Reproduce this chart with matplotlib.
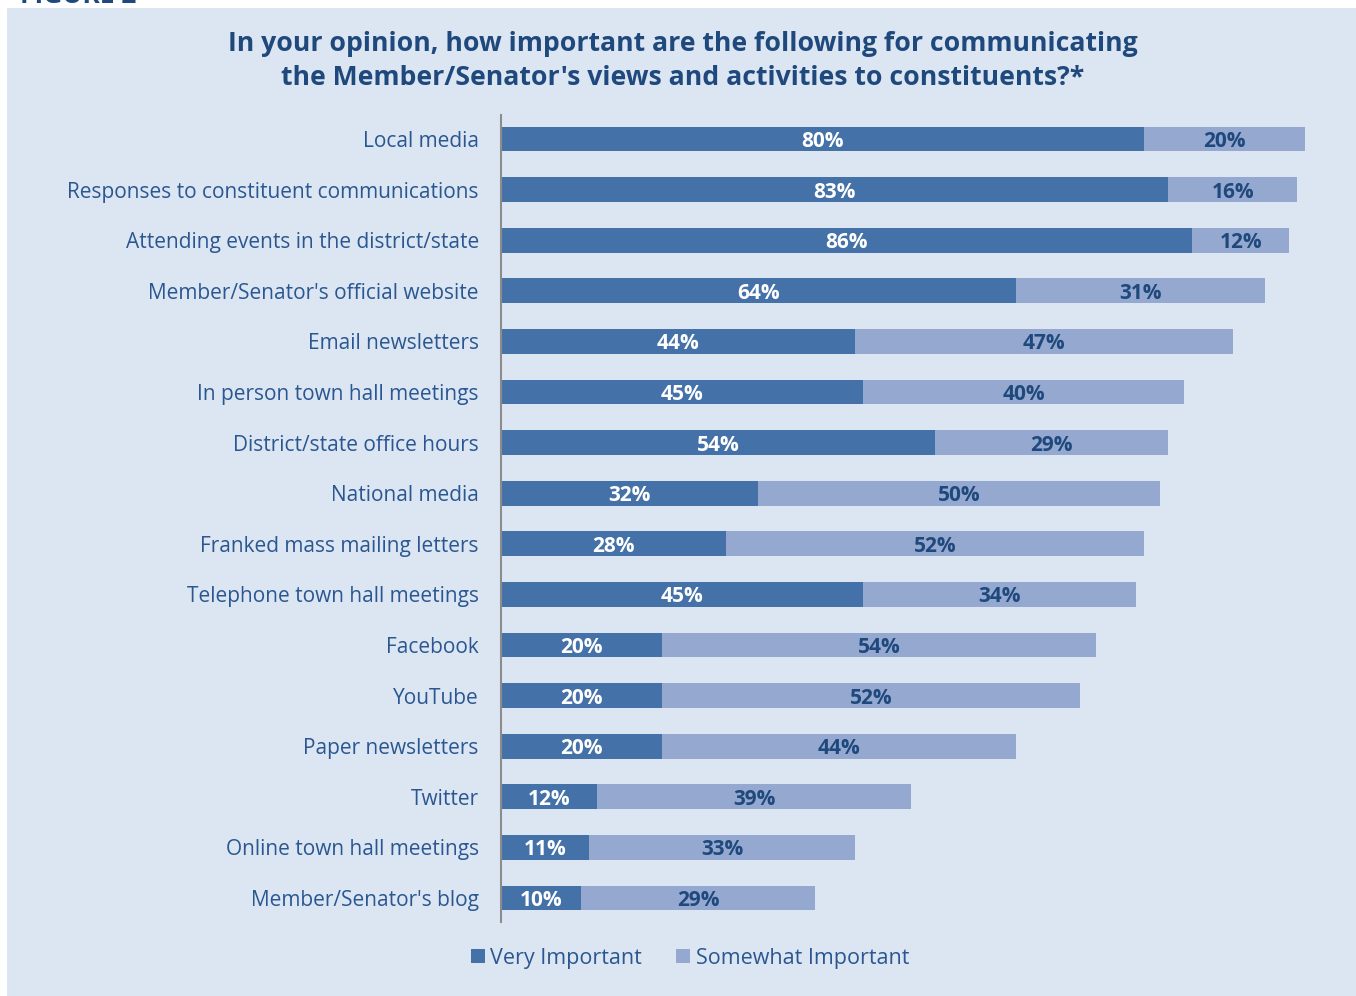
import matplotlib
matplotlib.use("Agg")
import matplotlib.pyplot as plt
from matplotlib.patches import Rectangle

categories = [
    "Local media",
    "Responses to constituent communications",
    "Attending events in the district/state",
    "Member/Senator's official website",
    "Email newsletters",
    "In person town hall meetings",
    "District/state office hours",
    "National media",
    "Franked mass mailing letters",
    "Telephone town hall meetings",
    "Facebook",
    "YouTube",
    "Paper newsletters",
    "Twitter",
    "Online town hall meetings",
    "Member/Senator's blog",
]
very_important = [80, 83, 86, 64, 44, 45, 54, 32, 28, 45, 20, 20, 20, 12, 11, 10]
somewhat_important = [20, 16, 12, 31, 47, 40, 29, 50, 52, 34, 54, 52, 44, 39, 33, 29]
series_names = ["Very Important", "Somewhat Important"]
title = ("In your opinion, how important are the following for communicating\n"
         "the Member/Senator's views and activities to constituents?*")

BG = "#DCE6F2"
DARK = "#4472A8"
LIGHT = "#95A9D0"
TXT = "#1F497D"
LBL = "#2A5791"

plt.rcParams['font.family'] = ['Open Sans', 'DejaVu Sans']

W, H = 1356, 996
fig = plt.figure(figsize=(W / 100, H / 100), dpi=100)
fig.patch.set_facecolor("white")
fig.patches.append(Rectangle((7 / W, 0), 1 - 7 / W, 1 - 8 / H, transform=fig.transFigure,
                             facecolor=BG, edgecolor="none", zorder=-10))
fig.text(20 / W, 1 - 3 / H, "FIGURE 2", color=TXT, fontsize=19, fontweight="bold",
         ha="left", va="baseline", zorder=-5)

left, right = 501 / W, 1305 / W
bottom, top = 1 - 922 / H, 1 - 115 / H
ax = fig.add_axes([left, bottom, right - left, top - bottom])
ax.set_facecolor("none")

y = list(range(len(categories)))
ax.barh(y, very_important, height=0.49, color=DARK, label=series_names[0], zorder=2)
ax.barh(y, somewhat_important, left=very_important, height=0.49, color=LIGHT,
        label=series_names[1], zorder=2)

for i, (a, b) in enumerate(zip(very_important, somewhat_important)):
    ax.text(a / 2, i, f"{a}%", ha="center", va="center_baseline", color="white",
            fontsize=15, fontweight="bold", zorder=3)
    ax.text(a + b / 2, i, f"{b}%", ha="center", va="center_baseline", color=TXT,
            fontsize=15, fontweight="bold", zorder=3)

ax.set_xlim(0, 100)
ax.set_ylim(len(categories) - 1 + 0.474, -0.474)
ax.set_yticks(y)
ax.set_yticklabels(categories, fontsize=15, color=LBL)
ax.tick_params(axis="y", length=0, pad=16)
ax.set_xticks([])
for s in ["top", "right", "bottom"]:
    ax.spines[s].set_visible(False)
ax.spines["left"].set_color("#8C8C8C")
ax.spines["left"].set_linewidth(1.5)

fig.text(683 / W, 1 - 61 / H, title, ha="center", va="center", color=TXT,
         fontsize=19.2, fontweight="bold", linespacing=1.38)

leg = fig.legend(loc="center", bbox_to_anchor=(690 / W, 1 - 958 / H), ncol=2,
                 frameon=False, fontsize=15.5, handlelength=0.65, handleheight=0.65,
                 handletextpad=0.25, columnspacing=1.6, labelcolor=LBL)

fig.savefig("out.png", dpi=100, facecolor="white")
